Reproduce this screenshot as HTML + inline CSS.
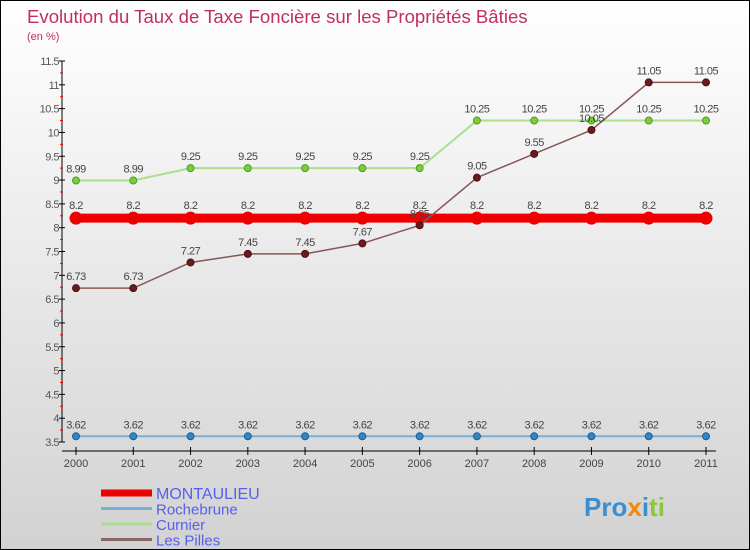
<!DOCTYPE html>
<html><head><meta charset="utf-8"><style>
body{margin:0;}
#c{width:748px;height:548px;border:1px solid #000;background:linear-gradient(#ffffff,#d2d2d2);position:relative;font-family:"Liberation Sans",sans-serif;overflow:hidden}
</style></head><body>
<div id="c">
<svg id="s" width="748" height="548" xmlns="http://www.w3.org/2000/svg" style="position:absolute;left:0;top:0">
<text x="26" y="22" font-size="18.6" fill="#c0305a">Evolution du Taux de Taxe Foncière sur les Propriétés Bâties</text>
<text x="26" y="39" font-size="11" fill="#c0305a">(en %)</text>
<g id="axes"></g><g id="series"></g><g id="legend"></g>
<text x="583" y="515" font-size="26" font-weight="bold"><tspan fill="#3a8fd0">Pro</tspan><tspan fill="#f08a00">x</tspan><tspan fill="#3a8fd0">i</tspan><tspan fill="#8cc63f">ti</tspan></text>
</svg>
</div>
<script>
const years=[2000,2001,2002,2003,2004,2005,2006,2007,2008,2009,2010,2011];
const yTicks=[3.5,4,4.5,5,5.5,6,6.5,7,7.5,8,8.5,9,9.5,10,10.5,11,11.5];
const montaulieu=[8.2,8.2,8.2,8.2,8.2,8.2,8.2,8.2,8.2,8.2,8.2,8.2];
const rochebrune=[3.62,3.62,3.62,3.62,3.62,3.62,3.62,3.62,3.62,3.62,3.62,3.62];
const curnier=[8.99,8.99,9.25,9.25,9.25,9.25,9.25,10.25,10.25,10.25,10.25,10.25];
const lesPilles=[6.73,6.73,7.27,7.45,7.45,7.67,8.05,9.05,9.55,10.05,11.05,11.05];
const NS="http://www.w3.org/2000/svg";
const X=i=>75+i*(630/11);
const Y=v=>441-(v-3.5)*(381/8);
function mk(t,a,p){const e=document.createElementNS(NS,t);for(const k in a)e.setAttribute(k,a[k]);p.appendChild(e);return e;}
const ax=document.getElementById('axes');
let l=mk('line',{x1:61,y1:60,x2:61,y2:441,stroke:'#000'},ax);


l=mk('line',{x1:61,y1:450,x2:715,y2:450,stroke:'#000'},ax);


yTicks.forEach(v=>{
 mk('line',{x1:58,y1:Y(v),x2:64,y2:Y(v),stroke:'#000'},ax);
 if(v<11.5)mk('line',{x1:59,y1:Y(v+0.25),x2:62,y2:Y(v+0.25),stroke:'#e00'},ax);
 const t=mk('text',{x:58,y:Y(v)+4,'font-size':11,fill:'#555','text-anchor':'end','letter-spacing':'-0.5'},ax);t.textContent=String(v);
 
 
});
years.forEach((y,i)=>{
 mk('line',{x1:X(i),y1:446,x2:X(i),y2:454,stroke:'#000'},ax);
 const t=mk('text',{x:X(i),y:466,'font-size':11,fill:'#444','text-anchor':'middle'},ax);t.textContent=y;
 
 
});
const sg=document.getElementById('series');
function series(vals,color,w,r,dot,stroke,name,lblOff){
 const g=mk('g',{},sg);
 
 
 mk('polyline',{points:vals.map((v,i)=>X(i)+','+Y(v)).join(' '),fill:'none',stroke:color,'stroke-width':w},g);
 vals.forEach((v,i)=>{
  const c=mk('circle',{cx:X(i),cy:Y(v),r:r,fill:dot,stroke:stroke,'stroke-width':1},g);
  
  
  const t=mk('text',{x:X(i),y:Y(v)+lblOff,'font-size':11,fill:'#444','text-anchor':'middle','letter-spacing':'-0.5'},g);t.textContent=String(v);
 });
}
series(rochebrune,'#7aafd6',2,3.5,'#2f86c8','#1e5f94','series-rochebrune',-8);
series(curnier,'#a8e08c',2,3.5,'#7ccc3c','#4f9a22','series-curnier',-8);
series(montaulieu,'#ee0000',9,6,'#ee0000','#ee0000','series-montaulieu',-9);
series(lesPilles,'#8b5555',1.5,3.5,'#6b1a20','#4a0f14','series-les-pilles',-8);
const lg=document.getElementById('legend');
const leg=[['MONTAULIEU','#ee0000',7],['Rochebrune','#7aafd6',3],['Curnier','#a8e08c',3],['Les Pilles','#8b6666',3]];
leg.forEach((d,i)=>{
 const y=492+i*15.5;
 const g=mk('g',{},lg);
 
 
 mk('line',{x1:100,y1:y,x2:151,y2:y,stroke:d[1],'stroke-width':d[2]},g);
 const t=mk('text',{x:155,y:y+6,'font-size':i==0?16:15,fill:'#5560ee'},g);t.textContent=d[0];
});
</script>
</body></html>
